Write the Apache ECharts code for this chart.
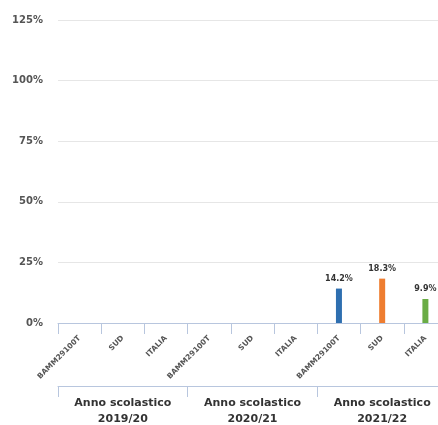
<!DOCTYPE html>
<html>
<head>
<meta charset="utf-8">
<script src="https://cdn.jsdelivr.net/npm/echarts@6/dist/echarts.min.js"></script>
<style>
  html, body { margin: 0; padding: 0; background: #fff; }
  #chart { width: 438px; height: 425px; }
</style>
</head>
<body>
<div id="chart"></div>
<script>
  // categorie (scuola / area) e anni scolastici
  const categories = ['BAMM29100T', 'SUD', 'ITALIA', 'BAMM29100T', 'SUD', 'ITALIA', 'BAMM29100T', 'SUD', 'ITALIA'];
  const years = ['Anno scolastico\n2019/20', 'Anno scolastico\n2020/21', 'Anno scolastico\n2021/22'];
  const values = [null, null, null, null, null, null, 14.2, 18.3, 9.9];
  const yTicks = [0, 25, 50, 75, 100, 125];

  const colorByName = { 'BAMM29100T': '#2e6fb0', 'SUD': '#ee7d30', 'ITALIA': '#6aac45' };
  const axisColor = '#b8c6de';
  const font = 'DejaVu Sans';

  let chart = echarts.init(document.getElementById('chart'));
  chart.setOption({
    animation: false,
    // il grafico originale è tagliato a destra: la griglia va oltre il bordo
    grid: { left: 58, width: 389, top: 20, height: 303, containLabel: false, outerBoundsMode: 'none' },
    yAxis: {
      type: 'value',
      min: yTicks[0],
      max: yTicks[yTicks.length - 1],
      interval: 25,
      axisLine: { show: false },
      axisTick: { show: false },
      splitLine: { lineStyle: { color: '#e6e6e6', width: 1 } },
      axisLabel: {
        formatter: '{value}%',
        margin: 15,
        color: '#555',
        fontFamily: font,
        fontWeight: 'bold',
        fontSize: 10
      }
    },
    xAxis: [
      {
        type: 'category',
        data: categories,
        position: 'bottom',
        axisLine: { show: true, lineStyle: { color: axisColor, width: 1 } },
        axisTick: { show: true, interval: 0, length: 11, lineStyle: { color: axisColor, width: 1 } },
        axisLabel: {
          interval: 0,
          rotate: 45,
          margin: 14,
          color: '#555',
          fontFamily: font,
          fontWeight: 'bold',
          fontSize: 7.5
        }
      },
      {
        type: 'category',
        data: years,
        position: 'bottom',
        offset: 63,
        axisLine: { show: true, lineStyle: { color: axisColor, width: 1 } },
        axisTick: { show: true, interval: 0, length: 11, lineStyle: { color: axisColor, width: 1 } },
        axisLabel: {
          interval: 0,
          margin: 9,
          color: '#333',
          fontFamily: font,
          fontWeight: 'bold',
          fontSize: 11,
          lineHeight: 16
        }
      }
    ],
    series: [
      {
        type: 'bar',
        xAxisIndex: 0,
        barWidth: 6,
        data: values.map((v, i) => ({
          value: v,
          itemStyle: { color: colorByName[categories[i]] }
        })),
        label: {
          show: true,
          position: 'top',
          distance: 6,
          formatter: p => p.value.toFixed(1) + '%',
          color: '#333',
          fontFamily: font,
          fontWeight: 'bold',
          fontSize: 8
        }
      }
    ]
  });
</script>
</body>
</html>
